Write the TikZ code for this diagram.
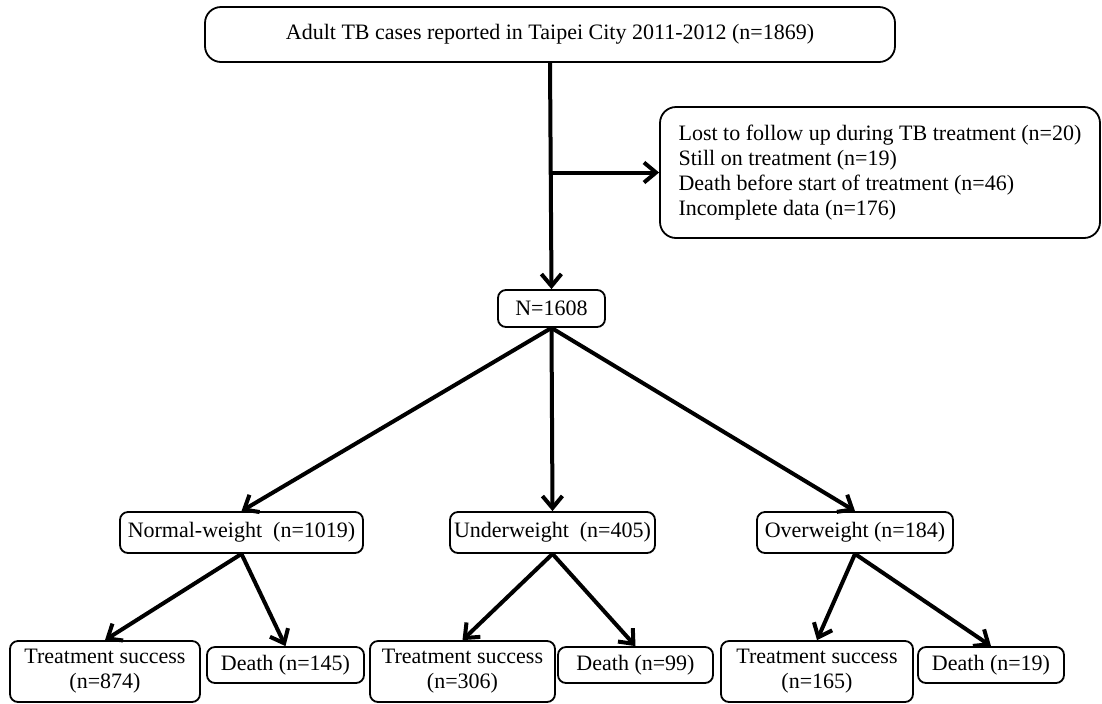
\documentclass[tikz,border=0pt]{standalone}
\usepackage{fontspec}
\setmainfont{Liberation Serif}
\usetikzlibrary{arrows.meta,positioning}

\begin{document}
\begin{tikzpicture}[x=0.5pt,y=-0.5pt,
  box/.style={draw,rounded corners=4pt,line width=0.9pt,inner sep=0pt,
    font=\fontsize{11}{12.5}\selectfont,align=center},
  bigbox/.style={box,rounded corners=8pt},
  arr/.style={-{Straight Barb[length=6pt,width=10pt]},line width=2pt}]
  \useasboundingbox (0,0) rectangle (1102,703);
  % cohort and exclusions
  \node[bigbox,minimum width=345pt,minimum height=27.5pt] (cases) at (550,34.5)
    {Adult TB cases reported in Taipei City 2011-2012 (n=1869)};
  \node[bigbox,minimum width=220pt,minimum height=65.5pt,align=left] (excl) at (880,172.5)
    {Lost to follow up during TB treatment (n=20)\\
     Still on treatment (n=19)\\
     Death before start of treatment (n=46)\\
     Incomplete data (n=176)};
  \node[box,minimum width=53.5pt,minimum height=18.5pt] (total) at (551.5,308.5) {N=1608};
  % weight groups
  \node[box,minimum width=121.5pt,minimum height=20.5pt] (normal) at (241.5,532.5) {Normal-weight\ \ (n=1019)};
  \node[box,minimum width=102.5pt,minimum height=20.5pt] (under) at (552.5,532.5) {Underweight\ \ (n=405)};
  \node[box,minimum width=98pt,minimum height=20.5pt] (over) at (855,532.5) {Overweight (n=184)};
  % outcomes
  \node[box,minimum width=95pt,minimum height=30.5pt] (succ1) at (105,671.5) {Treatment success\\(n=874)};
  \node[box,minimum width=78.5pt,minimum height=18pt] (death1) at (285.5,665) {Death (n=145)};
  \node[box,minimum width=92.5pt,minimum height=30.5pt] (succ2) at (462.5,671.5) {Treatment success\\(n=306)};
  \node[box,minimum width=77.5pt,minimum height=18pt] (death2) at (635.5,665) {Death (n=99)};
  \node[box,minimum width=96pt,minimum height=30.5pt] (succ3) at (817,671.5) {Treatment success\\(n=165)};
  \node[box,minimum width=73pt,minimum height=18pt] (death3) at (991,665) {Death (n=19)};

  \coordinate (split) at (cases.south |- excl.west);
  \draw[arr] (cases.south) -- (total.north);
  \draw[arr] (split) -- (excl.west);
  \foreach \grp in {normal,under,over}
    \draw[arr] (total.south) -- (\grp.north);
  \foreach \grp/\a/\b in {normal/succ1/death1,under/succ2/death2,over/succ3/death3} {
    \draw[arr] (\grp.south) -- (\a.north);
    \draw[arr] (\grp.south) -- (\b.north);
  }
\end{tikzpicture}
\end{document}
